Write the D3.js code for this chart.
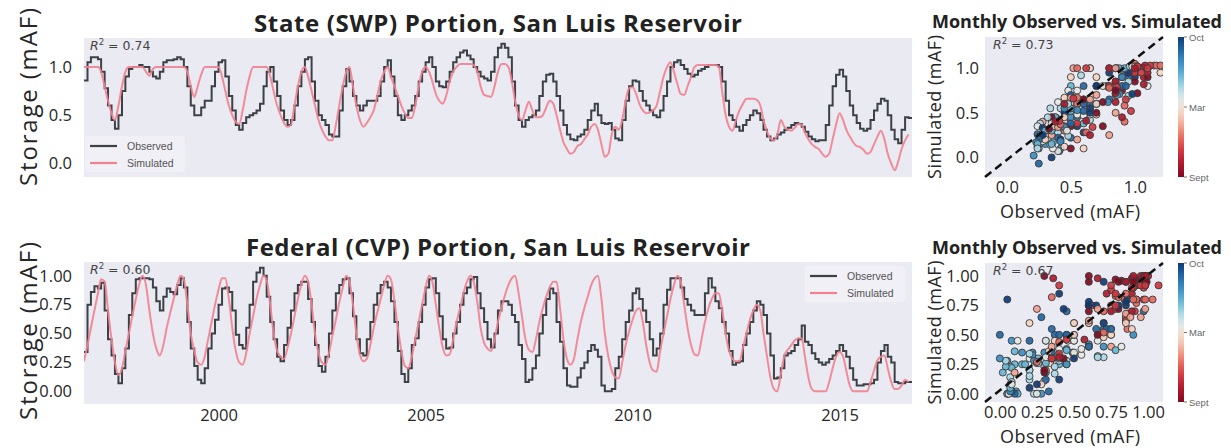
<!DOCTYPE html>
<html>
<head>
<meta charset="utf-8">
<script src="https://cdn.jsdelivr.net/npm/d3@7"></script>
<style>
  body { margin: 0; background: #fff; }
</style>
</head>
<body>
<div id="chart"></div>
<script>
// monthly storage (mAF), Oct 1996 .. Sep 2016, one row per water year (Oct..Sep)
const swpObserved = [
  0.86,1.05,1.10,1.10,1.08,0.95,0.78,0.60,0.45,0.36,0.50,0.75,
  0.90,0.98,1.00,1.00,1.02,1.00,1.00,0.95,0.90,0.88,0.95,1.05,
  1.07,1.07,1.08,1.10,1.08,1.00,0.80,0.60,0.50,0.50,0.58,0.65,
  0.65,0.80,0.95,1.05,1.07,0.90,0.70,0.55,0.40,0.35,0.42,0.48,
  0.50,0.52,0.55,0.62,0.80,0.95,1.00,0.85,0.70,0.55,0.45,0.40,
  0.45,0.60,0.80,0.95,1.08,1.10,0.85,0.65,0.50,0.45,0.40,0.30,
  0.28,0.28,0.55,0.80,0.98,0.85,0.70,0.60,0.55,0.60,0.65,0.65,
  0.65,0.70,0.85,1.00,1.07,0.90,0.70,0.50,0.45,0.50,0.55,0.60,
  0.70,0.85,0.95,1.05,1.10,1.00,0.85,0.80,0.79,0.85,0.95,1.05,
  1.10,1.15,1.17,1.12,1.08,1.00,0.95,0.90,0.88,0.86,0.95,1.10,
  1.20,1.24,1.20,1.10,0.85,0.60,0.45,0.38,0.45,0.48,0.50,0.55,
  0.70,0.85,0.92,0.93,0.85,0.70,0.55,0.40,0.30,0.25,0.24,0.28,
  0.30,0.35,0.45,0.55,0.62,0.50,0.42,0.41,0.42,0.35,0.26,0.24,
  0.45,0.65,0.80,0.86,0.85,0.75,0.65,0.60,0.55,0.50,0.48,0.55,
  0.70,0.85,1.00,1.05,1.07,1.02,0.98,0.93,0.90,0.92,0.96,0.98,
  1.00,1.02,1.02,1.02,1.00,0.85,0.65,0.50,0.45,0.38,0.34,0.40,
  0.45,0.50,0.55,0.52,0.45,0.35,0.28,0.24,0.26,0.30,0.32,0.35,
  0.37,0.40,0.42,0.41,0.38,0.33,0.28,0.25,0.23,0.24,0.24,0.40,
  0.60,0.80,0.92,0.97,0.90,0.75,0.60,0.50,0.42,0.36,0.34,0.36,
  0.45,0.55,0.62,0.67,0.65,0.50,0.35,0.25,0.21,0.35,0.48,0.47
];
const swpSimulated = [
  1.00,1.00,1.00,1.00,1.00,0.95,0.80,0.65,0.52,0.45,0.60,0.80,
  0.95,1.00,1.00,1.00,1.00,1.00,0.95,0.91,0.98,1.00,1.00,1.00,
  1.00,1.00,1.00,1.00,1.00,1.00,0.95,0.80,0.69,0.80,0.92,1.00,
  1.00,1.00,1.00,1.00,0.90,0.75,0.60,0.50,0.43,0.41,0.55,0.75,
  0.90,1.00,1.00,1.00,1.00,1.00,0.90,0.75,0.60,0.50,0.42,0.38,
  0.40,0.60,0.80,0.95,1.00,0.90,0.75,0.60,0.45,0.35,0.28,0.24,
  0.24,0.40,0.60,0.80,0.95,1.00,0.80,0.60,0.45,0.38,0.42,0.48,
  0.55,0.70,0.85,0.95,1.00,0.90,0.80,0.70,0.60,0.52,0.47,0.47,
  0.60,0.80,0.95,1.00,0.95,0.85,0.72,0.65,0.62,0.70,0.85,0.95,
  1.00,1.03,1.03,1.03,1.03,1.02,0.95,0.80,0.71,0.70,0.69,0.80,
  0.95,1.03,1.03,1.00,0.85,0.65,0.50,0.45,0.55,0.64,0.55,0.48,
  0.48,0.50,0.58,0.65,0.62,0.50,0.35,0.22,0.15,0.10,0.12,0.18,
  0.20,0.25,0.30,0.38,0.41,0.35,0.20,0.07,0.10,0.30,0.38,0.35,
  0.45,0.65,0.78,0.79,0.72,0.62,0.55,0.52,0.53,0.55,0.60,0.75,
  0.90,1.00,1.05,0.95,0.82,0.72,0.71,0.80,0.90,1.00,1.02,1.02,
  1.02,1.02,1.02,1.02,1.00,0.75,0.50,0.38,0.34,0.45,0.55,0.62,
  0.67,0.67,0.67,0.66,0.60,0.45,0.33,0.26,0.24,0.30,0.45,0.38,
  0.35,0.34,0.37,0.41,0.40,0.32,0.25,0.20,0.17,0.15,0.10,0.07,
  0.10,0.25,0.40,0.52,0.45,0.35,0.28,0.22,0.18,0.17,0.14,0.10,
  0.12,0.20,0.28,0.34,0.25,0.10,0.00,-0.07,0.02,0.15,0.24,0.30
];
const cvpObserved = [
  0.34,0.75,0.86,0.91,0.89,0.94,0.70,0.45,0.31,0.15,0.07,0.20,
  0.37,0.66,0.85,0.97,0.98,0.98,0.98,0.97,0.90,0.78,0.70,0.82,
  0.89,0.86,0.84,0.92,0.98,0.90,0.60,0.37,0.22,0.10,0.07,0.20,
  0.37,0.50,0.62,0.75,0.89,0.90,0.86,0.70,0.49,0.40,0.37,0.55,
  0.75,0.95,1.03,1.07,1.00,0.82,0.60,0.45,0.30,0.26,0.40,0.55,
  0.70,0.85,0.92,0.95,0.95,0.80,0.60,0.40,0.22,0.17,0.30,0.50,
  0.70,0.85,0.92,0.97,0.98,0.85,0.65,0.45,0.33,0.31,0.45,0.60,
  0.75,0.85,0.92,0.95,0.90,0.78,0.60,0.35,0.15,0.08,0.20,0.40,
  0.46,0.60,0.75,0.90,0.97,0.98,0.85,0.65,0.45,0.37,0.38,0.50,
  0.60,0.75,0.85,0.90,0.97,0.99,0.85,0.72,0.60,0.45,0.38,0.50,
  0.70,0.78,0.78,0.75,0.66,0.60,0.40,0.28,0.08,0.10,0.20,0.31,
  0.50,0.66,0.80,0.89,0.85,0.60,0.43,0.20,0.05,0.04,0.04,0.12,
  0.20,0.25,0.35,0.40,0.36,0.30,0.05,0.00,0.00,0.02,0.20,0.30,
  0.45,0.60,0.70,0.85,0.89,0.80,0.70,0.60,0.45,0.31,0.37,0.50,
  0.75,0.88,0.98,0.98,0.98,0.90,0.80,0.75,0.70,0.66,0.66,0.66,
  0.85,0.98,0.90,0.78,0.72,0.60,0.50,0.35,0.23,0.25,0.26,0.40,
  0.50,0.60,0.70,0.78,0.75,0.66,0.50,0.31,0.11,0.12,0.20,0.31,
  0.33,0.35,0.40,0.45,0.57,0.43,0.40,0.33,0.28,0.25,0.23,0.25,
  0.28,0.31,0.35,0.40,0.35,0.30,0.20,0.10,0.05,0.05,0.06,0.06,
  0.07,0.10,0.25,0.35,0.40,0.30,0.25,0.08,0.07,0.07,0.08,0.08
];
const cvpSimulated = [
  0.26,0.40,0.55,0.70,0.85,0.97,0.95,0.70,0.45,0.25,0.14,0.20,
  0.35,0.50,0.65,0.80,0.93,1.00,0.92,0.70,0.50,0.37,0.31,0.40,
  0.55,0.68,0.80,0.92,1.00,0.97,0.75,0.50,0.35,0.25,0.23,0.30,
  0.45,0.60,0.75,0.88,0.98,0.98,0.80,0.55,0.35,0.25,0.23,0.33,
  0.50,0.65,0.80,0.92,1.00,0.96,0.75,0.50,0.35,0.30,0.28,0.38,
  0.50,0.65,0.80,0.93,1.00,0.95,0.75,0.50,0.33,0.25,0.23,0.33,
  0.48,0.62,0.77,0.90,1.00,0.95,0.75,0.50,0.32,0.26,0.28,0.40,
  0.55,0.68,0.80,0.92,1.00,0.97,0.78,0.55,0.35,0.22,0.20,0.30,
  0.45,0.60,0.75,0.90,1.00,0.95,0.75,0.55,0.38,0.31,0.32,0.45,
  0.60,0.72,0.85,0.95,1.00,0.95,0.78,0.55,0.42,0.37,0.35,0.45,
  0.60,0.72,0.83,0.92,0.98,1.00,0.85,0.65,0.45,0.36,0.34,0.45,
  0.60,0.72,0.82,0.90,0.95,0.95,0.72,0.45,0.28,0.23,0.28,0.45,
  0.60,0.72,0.82,0.92,0.98,1.00,0.80,0.50,0.30,0.18,0.12,0.11,
  0.25,0.40,0.52,0.62,0.70,0.72,0.60,0.40,0.25,0.18,0.17,0.35,
  0.50,0.65,0.80,0.92,1.00,0.95,0.75,0.55,0.40,0.32,0.31,0.45,
  0.60,0.72,0.80,0.85,0.85,0.70,0.50,0.35,0.28,0.26,0.26,0.38,
  0.50,0.62,0.70,0.75,0.70,0.50,0.30,0.12,0.02,0.00,0.15,0.31,
  0.36,0.40,0.44,0.46,0.46,0.30,0.12,0.02,0.00,0.00,0.00,0.00,
  0.08,0.20,0.30,0.34,0.30,0.18,0.05,0.00,0.00,0.00,0.00,0.00,
  0.08,0.18,0.27,0.30,0.31,0.20,0.08,0.02,0.02,0.05,0.10,0.08
];

const seriesNames = ["Observed", "Simulated"];
const yearTicks = [2000, 2005, 2010, 2015];
const swpTicks = [0, 0.5, 1.0];
const cvpTicks = [0, 0.25, 0.5, 0.75, 1.0];
const seriesR2 = ["0.74", "0.60"];
const scatterR2 = ["0.73", "0.67"];
// colour position (0 = top of colorbar) of each water-year month Oct..Sep, as the points read
const colorbarPos = [6, 7, 8, 9, 10, 11, 0, 1, 2, 3, 4, 5];
const monthTickValues = [0, 5.5, 11];
const monthTickLabels = ["Oct", "Mar", "Sept"];

const W = 1231, H = 448;
const obsColor = "#3c4146", simColor = "#f2808f", bg = "#eaeaf2";
const sans = "'Open Sans', Lato, sans-serif";
const palette = ["#0e3b78", "#2a7fc0", "#62bcd6", "#eef6f7", "#f9d2bb", "#ec6a5a", "#c81e32", "#7f0a22"];

const svg = d3.select("#chart").append("svg")
  .attr("width", W).attr("height", H);

const start = new Date(1996, 9, 1), end = new Date(2016, 9, 1);
const months = d3.range(240).map(i => new Date(1996, 9 + i, 1));
const x = d3.scaleTime().domain([start, end]).range([84, 912]);

const cmap = d3.scaleSequential(d3.interpolateRgbBasis(palette)).domain([0, 11]);

function r2Label(g, px, py, val) {
  const t = g.append("text").attr("x", px).attr("y", py)
    .attr("font-family", "'DejaVu Sans', sans-serif").attr("font-size", 12.5).attr("fill", "#444");
  t.append("tspan").attr("font-style", "italic").text("R");
  t.append("tspan").attr("dy", -5).attr("font-size", 8.5).text("2");
  t.append("tspan").attr("dy", 5).text(" = " + val);
}

function styleAxis(g, size) {
  g.attr("font-family", sans).attr("font-size", size);
  g.select(".domain").remove();
  g.selectAll("text").attr("fill", "#262626");
}

// ---- time series panels ----
const tsPanels = [
  {title: "State (SWP) Portion, San Luis Reservoir", titleLen: 488, obs: swpObserved, sim: swpSimulated,
   top: 38, bottom: 177, yDomain: [-0.14, 1.30], ticks: swpTicks, fmt: ".1f",
   r2: seriesR2[0], legend: "lowerleft", labelY: 97, showYears: false},
  {title: "Federal (CVP) Portion, San Luis Reservoir", titleLen: 504, obs: cvpObserved, sim: cvpSimulated,
   top: 262, bottom: 404, yDomain: [-0.11, 1.12], ticks: cvpTicks, fmt: ".2f",
   r2: seriesR2[1], legend: "upperright", labelY: 331, showYears: true}
];

tsPanels.forEach((p, k) => {
  const y = d3.scaleLinear().domain(p.yDomain).range([p.bottom, p.top]);
  const left = x.range()[0], right = x.range()[1];

  svg.append("rect").attr("x", left).attr("y", p.top)
    .attr("width", right - left).attr("height", p.bottom - p.top).attr("fill", bg);

  svg.append("clipPath").attr("id", "ts" + k).append("rect")
    .attr("x", left).attr("y", p.top).attr("width", right - left).attr("height", p.bottom - p.top);

  const gy = svg.append("g").attr("transform", `translate(${left},0)`)
    .call(d3.axisLeft(y).tickValues(p.ticks).tickFormat(d3.format(p.fmt)).tickSize(0).tickPadding(12));
  styleAxis(gy, 16.5);

  if (p.showYears) {
    const gx = svg.append("g").attr("transform", `translate(0,${p.bottom})`)
      .call(d3.axisBottom(x).tickValues(yearTicks.map(yr => new Date(yr, 0, 1)))
        .tickFormat(d3.timeFormat("%Y")).tickSize(0).tickPadding(5));
    styleAxis(gx, 16.5);
  }

  const obsPts = p.obs.map((v, i) => [months[i], v]).concat([[end, p.obs[p.obs.length - 1]]]);
  const simPts = p.sim.map((v, i) => [months[i], v]);

  const lines = svg.append("g").attr("clip-path", `url(#ts${k})`);
  lines.append("path").datum(obsPts)
    .attr("fill", "none").attr("stroke", obsColor).attr("stroke-width", 2)
    .attr("d", d3.line().x(d => x(d[0])).y(d => y(d[1])).curve(d3.curveStepAfter));
  lines.append("path").datum(simPts)
    .attr("fill", "none").attr("stroke", simColor).attr("stroke-width", 2).attr("opacity", 0.9)
    .attr("d", d3.line().x(d => x(d[0])).y(d => y(d[1])).curve(d3.curveMonotoneX));

  svg.append("text").attr("x", (left + right) / 2).attr("y", p.top - 6)
    .attr("text-anchor", "middle").attr("font-family", sans).attr("font-weight", "bold")
    .attr("font-size", 24).attr("textLength", p.titleLen).attr("lengthAdjust", "spacing")
    .attr("fill", "#222").text(p.title);

  svg.append("text").attr("transform", `translate(37,${p.labelY}) rotate(-90)`)
    .attr("text-anchor", "middle").attr("font-family", sans).attr("font-size", 24)
    .attr("textLength", 178).attr("lengthAdjust", "spacing")
    .attr("fill", "#262626").text("Storage (mAF)");

  r2Label(svg, left + 6, p.top + 12, p.r2);

  // legend
  let lx, ly;
  if (p.legend === "lowerleft") { lx = left + 6; ly = p.bottom - 31; }
  else { lx = right - 102; ly = p.top + 14; }
  svg.append("rect").attr("x", lx - 5).attr("y", ly - 10).attr("width", 100).attr("height", 36)
    .attr("rx", 3).attr("fill", "#f1f1f6").attr("opacity", 0.8);
  [obsColor, simColor].forEach((c, j) => {
    svg.append("line").attr("x1", lx).attr("x2", lx + 27)
      .attr("y1", ly + j * 17).attr("y2", ly + j * 17)
      .attr("stroke", c).attr("stroke-width", 2.2);
    svg.append("text").attr("x", lx + 37).attr("y", ly + j * 17 + 3.5)
      .attr("font-family", "'Liberation Sans', Arial, sans-serif").attr("font-size", 10.5)
      .attr("fill", "#555").text(seriesNames[j]);
  });
});

// ---- scatter panels ----
const scPanels = [
  {obs: swpObserved, sim: swpSimulated, r2: scatterR2[0],
   top: 37, bottom: 177, xDomain: [-0.17, 1.22], yDomain: [-0.22, 1.35], ticks: swpTicks, fmt: ".1f"},
  {obs: cvpObserved, sim: cvpSimulated, r2: scatterR2[1],
   top: 263, bottom: 402, xDomain: [-0.10, 1.10], yDomain: [-0.07, 1.11], ticks: cvpTicks, fmt: ".2f"}
];

scPanels.forEach((p, k) => {
  const left = 985, right = 1163;
  const sx = d3.scaleLinear().domain(p.xDomain).range([left, right]);
  const sy = d3.scaleLinear().domain(p.yDomain).range([p.bottom, p.top]);

  svg.append("rect").attr("x", left).attr("y", p.top)
    .attr("width", right - left).attr("height", p.bottom - p.top).attr("fill", bg);
  svg.append("clipPath").attr("id", "sc" + k).append("rect")
    .attr("x", left).attr("y", p.top).attr("width", right - left).attr("height", p.bottom - p.top);

  const gy = svg.append("g").attr("transform", `translate(${left},0)`)
    .call(d3.axisLeft(sy).tickValues(p.ticks).tickFormat(d3.format(p.fmt)).tickSize(0).tickPadding(6));
  styleAxis(gy, 16.5);
  const gx = svg.append("g").attr("transform", `translate(0,${p.bottom})`)
    .call(d3.axisBottom(sx).tickValues(p.ticks).tickFormat(d3.format(p.fmt)).tickSize(0).tickPadding(4));
  styleAxis(gx, 16.5);

  const pts = p.obs.map((v, i) => ({o: v, s: p.sim[i], c: colorbarPos[i % 12]}));
  svg.append("g").attr("clip-path", `url(#sc${k})`)
    .selectAll("circle").data(pts).join("circle")
    .attr("cx", d => sx(d.o)).attr("cy", d => sy(d.s)).attr("r", 3.5)
    .attr("fill", d => cmap(d.c)).attr("fill-opacity", 0.92)
    .attr("stroke", "#3a3a3a").attr("stroke-width", 0.9);

  svg.append("line")
    .attr("x1", sx(p.xDomain[0])).attr("y1", sy(p.yDomain[0]))
    .attr("x2", sx(p.xDomain[1])).attr("y2", sy(p.yDomain[1]))
    .attr("stroke", "#111").attr("stroke-width", 2.5).attr("stroke-dasharray", "8,5");

  svg.append("text").attr("x", 1077).attr("y", p.top - 9)
    .attr("text-anchor", "middle").attr("font-family", sans).attr("font-weight", "bold")
    .attr("font-size", 18).attr("textLength", 290).attr("lengthAdjust", "spacing")
    .attr("fill", "#222").text("Monthly Observed vs. Simulated");

  svg.append("text").attr("x", (left + right) / 2 - 4).attr("y", p.bottom + 41)
    .attr("text-anchor", "middle").attr("font-family", sans).attr("font-size", 18)
    .attr("textLength", 140).attr("lengthAdjust", "spacing")
    .attr("fill", "#262626").text("Observed (mAF)");
  svg.append("text").attr("transform", `translate(941,${(p.top + p.bottom) / 2}) rotate(-90)`)
    .attr("text-anchor", "middle").attr("font-family", sans).attr("font-size", 18)
    .attr("textLength", 144).attr("lengthAdjust", "spacing")
    .attr("fill", "#262626").text("Simulated (mAF)");

  r2Label(svg, left + 8, p.top + 12, p.r2);

  // colorbar
  const cb = d3.scaleLinear().domain([0, 11]).range([p.top, p.bottom]);
  const gradId = "cbgrad" + k;
  const grad = svg.append("defs").append("linearGradient").attr("id", gradId)
    .attr("x1", 0).attr("x2", 0).attr("y1", 0).attr("y2", 1);
  d3.range(0, 11.01, 0.5).forEach(v => {
    grad.append("stop").attr("offset", v / 11).attr("stop-color", cmap(v));
  });
  svg.append("rect").attr("x", 1178).attr("y", p.top).attr("width", 6)
    .attr("height", p.bottom - p.top).attr("fill", `url(#${gradId})`);
  monthTickValues.forEach((v, j) => {
    svg.append("line").attr("x1", 1184).attr("x2", 1187)
      .attr("y1", cb(v)).attr("y2", cb(v)).attr("stroke", "#777").attr("stroke-width", 1);
    svg.append("text").attr("x", 1189).attr("y", cb(v) + 3.5)
      .attr("font-family", "'Liberation Sans', Arial, sans-serif").attr("font-size", 9.5)
      .attr("fill", "#666").text(monthTickLabels[j]);
  });
});
</script>
</body>
</html>
